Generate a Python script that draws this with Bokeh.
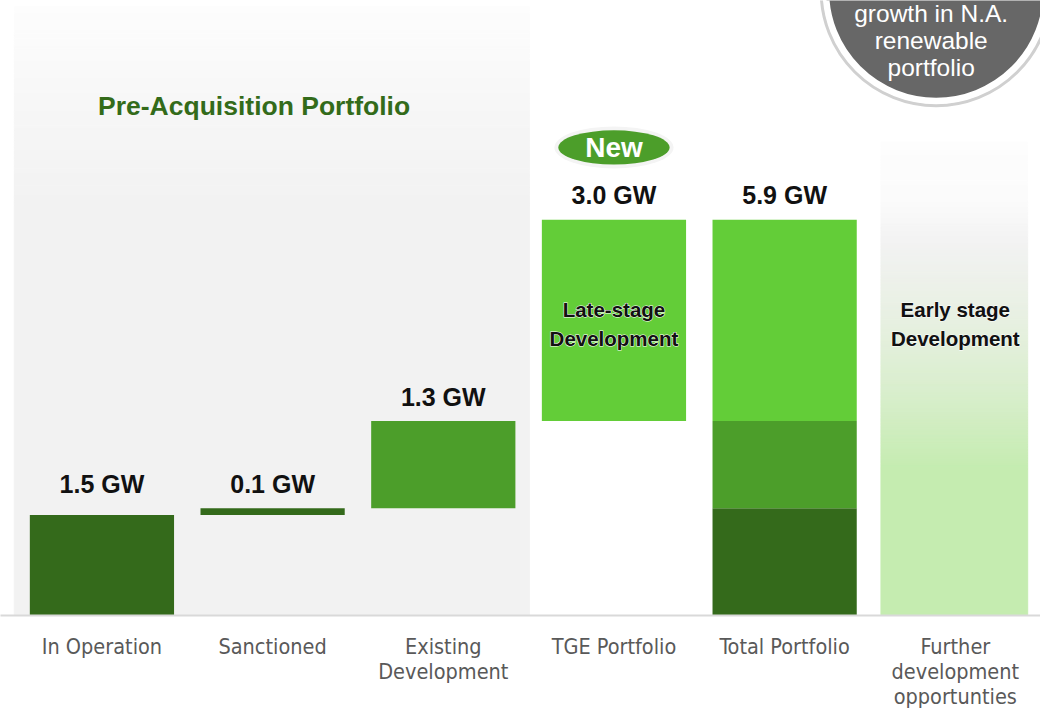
import numpy as np
from bokeh.plotting import figure
from bokeh.models import Range1d, FixedTicker
from bokeh.core.properties import value
from bokeh.embed import file_html
from bokeh.resources import INLINE

# ---------------- data ----------------
categories = ["In Operation", "Sanctioned", "Existing\nDevelopment",
              "TGE Portfolio", "Total Portfolio",
              "Further\ndevelopment\nopportunties"]
step_values = [1.5, 0.1, 1.3, 3.0]          # GW, waterfall steps
step_labels = ["1.5 GW", "0.1 GW", "1.3 GW", "3.0 GW"]
total_parts = [1.6, 1.3, 3.0]                # operation+sanctioned, existing dev., TGE
total_label = "5.9 GW"

# ---------------- style ----------------
DARK, MID, LIGHT = "#346a1b", "#4c9e2a", "#63cd38"
step_colors = [DARK, DARK, MID, LIGHT]
total_colors = [DARK, MID, LIGHT]
BAR_W = 0.845
BOLD = "Liberation Sans"
NARROW = "DejaVu Sans Condensed, Liberation Sans"

# reference-pixel helpers (data units)
PX_X, PX_Y = 173.3, 68.7
def dx(rx): return (rx - 103) / PX_X
def dy(ry): return (630 - ry) / PX_Y

W, H = 1040, 711
BOTTOM = H - round(630 * H / 727)
p = figure(width=W, height=H, output_backend="svg", toolbar_location=None,
           x_range=Range1d(dx(0), dx(1056)), y_range=Range1d(0, dy(0)),
           y_axis_location=None, min_border_left=0, min_border_right=0,
           min_border_top=0, min_border_bottom=BOTTOM)
p.grid.visible = False
p.outline_line_color = None
p.background_fill_color = "white"
p.border_fill_color = "white"

def hex2rgb(h): return np.array([int(h[i:i + 2], 16) for i in (1, 3, 5)], float)
def rgb2hex(c): return "#%02x%02x%02x" % tuple(int(round(v)) for v in c)

def gradient(x0, x1, stops, n=80):
    """stops: list of (ref_y, colour) top -> bottom; flat colour below last stop"""
    sy = [s[0] for s in stops]
    cols = np.array([hex2rgb(s[1]) for s in stops])
    p.quad(left=x0, right=x1, top=dy(sy[-1]), bottom=0, fill_color=stops[-1][1],
           line_color=stops[-1][1], line_width=1)
    ys = np.linspace(sy[0], sy[-1], n + 1)
    tops, bots, colors = [], [], []
    for a, b in zip(ys[:-1], ys[1:]):
        m = (a + b) / 2
        c = rgb2hex([np.interp(m, sy, cols[:, k]) for k in range(3)])
        tops.append(dy(a)); bots.append(dy(b)); colors.append(c)
    p.quad(left=x0, right=x1, top=tops, bottom=bots, fill_color=colors,
           line_color=colors, line_width=1)

# grey "pre-acquisition" panel
gradient(dx(14), dx(537), [(6, "#fdfdfd"), (120, "#f6f6f6"), (210, "#f2f2f2")], n=80)
# "further development" column
gradient(dx(894), dx(1043),
         [(145, "#fdfdfd"), (205, "#fbfbfb"), (250, "#f2f2f2"), (330, "#e7f0e1"),
          (400, "#d9eecd"), (480, "#c5ecb0")], n=120)

# waterfall bars
ends = np.cumsum(step_values)
starts = ends - np.array(step_values)
xs = np.arange(len(step_values))
p.vbar(x=xs, width=BAR_W, bottom=starts, top=ends, fill_color=step_colors, line_color=None)

# total stacked bar
t_ends = np.cumsum(total_parts)
t_starts = t_ends - np.array(total_parts)
x_total = len(step_values)
p.vbar(x=[x_total] * len(total_parts), width=BAR_W, bottom=t_starts, top=t_ends,
       fill_color=total_colors, line_color=None)

# value labels (labels of neighbouring, nearly equal bars share one level)
n = len(ends)
levels = [max(ends[j] for j in (i - 1, i, i + 1) if 0 <= j < n and abs(ends[j] - ends[i]) < 0.3)
          for i in range(n)]
lab_x = list(xs) + [x_total]
lab_y = [l + 25 / PX_Y for l in levels] + [t_ends[-1] + 25 / PX_Y]
p.text(x=lab_x, y=lab_y, text=step_labels + [total_label], text_align="center",
       text_baseline="middle", text_font=value(BOLD), text_font_style="bold",
       text_font_size="25px", text_color="#111111")

# panel title
p.text(x=[dx(257.5)], y=[dy(108)], text=["Pre-Acquisition Portfolio"], text_align="center",
       text_baseline="middle", text_font=value(BOLD), text_font_style="bold",
       text_font_size="26.5px", text_color="#336b1a")

# "New" badge
p.ellipse(x=[3], y=[dy(150.5)], width=121 / PX_X, height=43 / PX_Y,
          fill_color="#f4f4f4", line_color=None)
p.ellipse(x=[3], y=[dy(150.5)], width=113 / PX_X, height=35 / PX_Y,
          fill_color=MID, line_color=None)
p.text(x=[3], y=[dy(150.5)], text=["New"], text_align="center", text_baseline="middle",
       text_font=value(BOLD), text_font_style="bold", text_font_size="28px",
       text_color="white")

# stage labels (white halo underneath, solid text on top)
stage_x, stage_txt = [3, 5], ["Late-stage\nDevelopment", "Early stage\nDevelopment"]
for outline in ("white", None):
    p.text(x=stage_x, y=[dy(331.5)] * 2, text=stage_txt,
           text_align="center", text_baseline="middle", text_font=value(BOLD),
           text_font_style="bold", text_font_size="20.5px", text_color="#111111",
           text_line_height=1.25, text_outline_color=outline)

# grey callout circle
p.scatter(x=[dx(950)], y=[dy(-10)], size=230, marker="circle",
          fill_color=None, line_color="#d0d0d0", line_width=3)
p.scatter(x=[dx(950)], y=[dy(-10)], size=220, marker="circle",
          fill_color="#676767", line_color="white", line_width=6)
p.text(x=[dx(945)], y=[dy(41)], text=["growth in N.A.\nrenewable\nportfolio"],
       text_align="center", text_baseline="middle", text_font=value("Liberation Sans"),
       text_font_size="24.5px", text_color="white", text_line_height=1.0)

# x axis
xa = p.xaxis[0]
xa.ticker = FixedTicker(ticks=list(range(len(categories))))
xa.major_label_overrides = {i: c for i, c in enumerate(categories)}
xa.axis_line_color = "#d9d9d9"
xa.axis_line_width = 2
xa.major_tick_line_color = None
xa.minor_tick_line_color = None
xa.major_label_standoff = 12
xa.major_label_text_font = NARROW
xa.major_label_text_font_size = "21.5px"
xa.major_label_text_color = "#595959"
xa.major_label_text_line_height = 1.0

open("out.html", "w").write(file_html(p, INLINE))
